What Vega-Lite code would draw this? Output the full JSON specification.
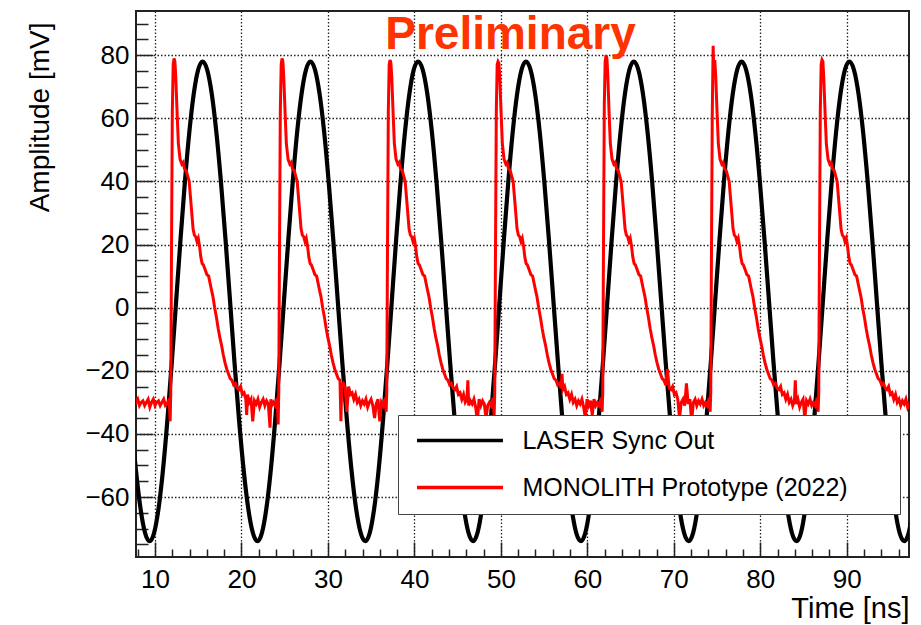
{
"$schema":"https://vega.github.io/schema/vega-lite/v6.json",
"width":773,"height":546,
"autosize":{"type":"none"},
"padding":{"left":136,"top":11,"right":12,"bottom":68},
"background":"white",
"config":{"view":{"stroke":"#222","strokeWidth":2},"font":"Liberation Sans"},
"title":{"text":"Preliminary","color":"#FF3300","font":"Liberation Sans","fontSize":46,"fontWeight":"bold","anchor":"middle","frame":"group","offset":-45,"baseline":"alphabetic","dx":-12,"dy":39},
"datasets":{
"laser":[
{"t":7.27,"v":-36},{"t":7.8,"v":-51.7},{"t":8.33,"v":-63.8},{"t":8.85,"v":-71.4},{"t":9.38,"v":-74},{"t":9.89,"v":-71.4},{"t":10.4,"v":-63.8},{"t":10.91,"v":-51.7},{"t":11.42,"v":-36},{"t":11.93,"v":-17.7},{"t":12.44,"v":2},{"t":12.95,"v":21.7},{"t":13.46,"v":40},{"t":13.97,"v":55.7},{"t":14.48,"v":67.8},{"t":14.99,"v":75.4},{"t":15.5,"v":78},
{"t":16.03,"v":75.4},{"t":16.56,"v":67.8},{"t":17.09,"v":55.7},{"t":17.62,"v":40},{"t":18.15,"v":21.7},{"t":18.68,"v":2},{"t":19.2,"v":-17.7},{"t":19.73,"v":-36},{"t":20.26,"v":-51.7},{"t":20.79,"v":-63.8},{"t":21.32,"v":-71.4},{"t":21.85,"v":-74},{"t":22.36,"v":-71.4},{"t":22.87,"v":-63.8},{"t":23.38,"v":-51.7},{"t":23.89,"v":-36},{"t":24.4,"v":-17.7},{"t":24.91,"v":2},{"t":25.42,"v":21.7},{"t":25.93,"v":40},{"t":26.44,"v":55.7},{"t":26.95,"v":67.8},{"t":27.46,"v":75.4},{"t":27.97,"v":78},
{"t":28.5,"v":75.4},{"t":29.03,"v":67.8},{"t":29.56,"v":55.7},{"t":30.08,"v":40},{"t":30.61,"v":21.7},{"t":31.14,"v":2},{"t":31.67,"v":-17.7},{"t":32.2,"v":-36},{"t":32.73,"v":-51.7},{"t":33.26,"v":-63.8},{"t":33.79,"v":-71.4},{"t":34.32,"v":-74},{"t":34.83,"v":-71.4},{"t":35.34,"v":-63.8},{"t":35.85,"v":-51.7},{"t":36.36,"v":-36},{"t":36.87,"v":-17.7},{"t":37.38,"v":2},{"t":37.89,"v":21.7},{"t":38.4,"v":40},{"t":38.91,"v":55.7},{"t":39.42,"v":67.8},{"t":39.92,"v":75.4},{"t":40.43,"v":78},
{"t":40.96,"v":75.4},{"t":41.49,"v":67.8},{"t":42.02,"v":55.7},{"t":42.55,"v":40},{"t":43.08,"v":21.7},{"t":43.61,"v":2},{"t":44.14,"v":-17.7},{"t":44.67,"v":-36},{"t":45.2,"v":-51.7},{"t":45.73,"v":-63.8},{"t":46.26,"v":-71.4},{"t":46.78,"v":-74},{"t":47.29,"v":-71.4},{"t":47.8,"v":-63.8},{"t":48.31,"v":-51.7},{"t":48.82,"v":-36},{"t":49.33,"v":-17.7},{"t":49.84,"v":2},{"t":50.35,"v":21.7},{"t":50.86,"v":40},{"t":51.37,"v":55.7},{"t":51.88,"v":67.8},{"t":52.39,"v":75.4},{"t":52.9,"v":78},
{"t":53.43,"v":75.4},{"t":53.96,"v":67.8},{"t":54.49,"v":55.7},{"t":55.02,"v":40},{"t":55.55,"v":21.7},{"t":56.08,"v":2},{"t":56.61,"v":-17.7},{"t":57.13,"v":-36},{"t":57.66,"v":-51.7},{"t":58.19,"v":-63.8},{"t":58.72,"v":-71.4},{"t":59.25,"v":-74},{"t":59.76,"v":-71.4},{"t":60.27,"v":-63.8},{"t":60.78,"v":-51.7},{"t":61.29,"v":-36},{"t":61.8,"v":-17.7},{"t":62.31,"v":2},{"t":62.82,"v":21.7},{"t":63.33,"v":40},{"t":63.84,"v":55.7},{"t":64.35,"v":67.8},{"t":64.86,"v":75.4},{"t":65.37,"v":78},
{"t":65.9,"v":75.4},{"t":66.43,"v":67.8},{"t":66.96,"v":55.7},{"t":67.49,"v":40},{"t":68.01,"v":21.7},{"t":68.54,"v":2},{"t":69.07,"v":-17.7},{"t":69.6,"v":-36},{"t":70.13,"v":-51.7},{"t":70.66,"v":-63.8},{"t":71.19,"v":-71.4},{"t":71.72,"v":-74},{"t":72.23,"v":-71.4},{"t":72.74,"v":-63.8},{"t":73.25,"v":-51.7},{"t":73.76,"v":-36},{"t":74.27,"v":-17.7},{"t":74.78,"v":2},{"t":75.29,"v":21.7},{"t":75.8,"v":40},{"t":76.31,"v":55.7},{"t":76.82,"v":67.8},{"t":77.33,"v":75.4},{"t":77.84,"v":78},
{"t":78.36,"v":75.4},{"t":78.89,"v":67.8},{"t":79.42,"v":55.7},{"t":79.95,"v":40},{"t":80.48,"v":21.7},{"t":81.01,"v":2},{"t":81.54,"v":-17.7},{"t":82.07,"v":-36},{"t":82.6,"v":-51.7},{"t":83.13,"v":-63.8},{"t":83.66,"v":-71.4},{"t":84.19,"v":-74},{"t":84.7,"v":-71.4},{"t":85.2,"v":-63.8},{"t":85.71,"v":-51.7},{"t":86.22,"v":-36},{"t":86.73,"v":-17.7},{"t":87.24,"v":2},{"t":87.75,"v":21.7},{"t":88.26,"v":40},{"t":88.77,"v":55.7},{"t":89.28,"v":67.8},{"t":89.79,"v":75.4},{"t":90.3,"v":78},
{"t":90.83,"v":75.4},{"t":91.36,"v":67.8},{"t":91.89,"v":55.7},{"t":92.42,"v":40},{"t":92.95,"v":21.7},{"t":93.48,"v":2},{"t":94.01,"v":-17.7},{"t":94.54,"v":-36},{"t":95.07,"v":-51.7},{"t":95.59,"v":-63.8},{"t":96.12,"v":-71.4},{"t":96.65,"v":-74},{"t":97.16,"v":-71.4},{"t":97.67,"v":-63.8}
],
"mono":[
{"t":7.6,"v":-29},{"t":7.8,"v":-30},{"t":8.0,"v":-29},{"t":8.2,"v":-31},{"t":8.4,"v":-30},{"t":8.6,"v":-29.5},{"t":8.8,"v":-31},{"t":9.0,"v":-30},{"t":9.2,"v":-29},{"t":9.4,"v":-31.5},{"t":9.6,"v":-30},{"t":9.8,"v":-29},{"t":10.0,"v":-31},{"t":10.2,"v":-30},{"t":10.4,"v":-29.5},{"t":10.6,"v":-31},{"t":10.8,"v":-30},{"t":11.0,"v":-29},{"t":11.2,"v":-31},{"t":11.4,"v":-30.5},{"t":11.56,"v":-29.5},
{"t":11.65,"v":-30},{"t":11.75,"v":-36},{"t":11.82,"v":-27},{"t":11.9,"v":15},{"t":12.0,"v":62},{"t":12.1,"v":77},{"t":12.2,"v":79},{"t":12.3,"v":78},{"t":12.4,"v":73},{"t":12.55,"v":62},{"t":12.7,"v":52},{"t":12.9,"v":47},{"t":13.1,"v":45.5},{"t":13.25,"v":46},{"t":13.4,"v":44},{"t":13.6,"v":43.5},{"t":13.8,"v":41.5},{"t":13.95,"v":40},{"t":14.1,"v":35},{"t":14.25,"v":30},{"t":14.4,"v":25},{"t":14.55,"v":23},{"t":14.7,"v":22.5},{"t":14.85,"v":21},{"t":15.0,"v":22},{"t":15.15,"v":19.5},{"t":15.3,"v":16},{"t":15.45,"v":14},{"t":15.6,"v":13.5},{"t":15.8,"v":12},{"t":16.0,"v":10.5},{"t":16.2,"v":10},{"t":16.35,"v":8},{"t":16.5,"v":6},{"t":16.7,"v":3.5},{"t":16.9,"v":0},{"t":17.1,"v":-3},{"t":17.3,"v":-6.5},{"t":17.5,"v":-9.5},{"t":17.7,"v":-12},{"t":17.9,"v":-15},{"t":18.1,"v":-17.5},{"t":18.3,"v":-19.5},{"t":18.5,"v":-21},{"t":18.7,"v":-22.5},{"t":18.9,"v":-23},{"t":19.1,"v":-24.5},{"t":19.3,"v":-24},{"t":19.5,"v":-25.5},{"t":19.7,"v":-26},{"t":19.9,"v":-25},{"t":20.1,"v":-27.5},{"t":20.3,"v":-27},{"t":20.5,"v":-29},{"t":20.6,"v":-34},{"t":20.7,"v":-27.5},{"t":20.9,"v":-30},{"t":21.1,"v":-29},{"t":21.3,"v":-36},{"t":21.5,"v":-29.5},{"t":21.7,"v":-30.5},{"t":21.9,"v":-29},{"t":22.1,"v":-31.5},{"t":22.3,"v":-30},{"t":22.5,"v":-29},{"t":22.7,"v":-31},{"t":22.9,"v":-29.5},{"t":23.1,"v":-30.5},{"t":23.3,"v":-38},{"t":23.4,"v":-29},{"t":23.5,"v":-31},{"t":23.7,"v":-30},{"t":23.9,"v":-31},{"t":24.05,"v":-29.5},
{"t":24.14,"v":-30},{"t":24.24,"v":-37},{"t":24.31,"v":-27},{"t":24.39,"v":15},{"t":24.49,"v":62},{"t":24.59,"v":77},{"t":24.69,"v":79},{"t":24.79,"v":78},{"t":24.89,"v":73},{"t":25.04,"v":62},{"t":25.19,"v":52},{"t":25.39,"v":47},{"t":25.59,"v":45.5},{"t":25.74,"v":46},{"t":25.89,"v":44},{"t":26.09,"v":43.5},{"t":26.29,"v":41.5},{"t":26.44,"v":40},{"t":26.59,"v":35},{"t":26.74,"v":30},{"t":26.89,"v":25},{"t":27.04,"v":23},{"t":27.19,"v":22.5},{"t":27.34,"v":21},{"t":27.49,"v":22},{"t":27.64,"v":19.5},{"t":27.79,"v":16},{"t":27.94,"v":14},{"t":28.09,"v":13.5},{"t":28.29,"v":12},{"t":28.49,"v":10.5},{"t":28.69,"v":10},{"t":28.84,"v":8},{"t":28.99,"v":6},{"t":29.19,"v":3.5},{"t":29.39,"v":0},{"t":29.59,"v":-3},{"t":29.79,"v":-6.5},{"t":29.99,"v":-9.5},{"t":30.19,"v":-12},{"t":30.39,"v":-15},{"t":30.59,"v":-17.5},{"t":30.79,"v":-19.5},{"t":30.99,"v":-21},{"t":31.19,"v":-22.5},{"t":31.39,"v":-23},{"t":31.5,"v":-36},{"t":31.59,"v":-24.5},{"t":31.79,"v":-24},{"t":31.99,"v":-25.5},{"t":32.19,"v":-33},{"t":32.39,"v":-25},{"t":32.59,"v":-27.5},{"t":32.79,"v":-27},{"t":32.99,"v":-29},{"t":33.19,"v":-27.5},{"t":33.39,"v":-30},{"t":33.59,"v":-29},{"t":33.79,"v":-31},{"t":33.99,"v":-29.5},{"t":34.19,"v":-30.5},{"t":34.39,"v":-29},{"t":34.59,"v":-31.5},{"t":34.79,"v":-30},{"t":34.99,"v":-29},{"t":35.19,"v":-31},{"t":35.39,"v":-35},{"t":35.59,"v":-30.5},{"t":35.79,"v":-29},{"t":35.99,"v":-36},{"t":36.19,"v":-30},{"t":36.39,"v":-31},{"t":36.54,"v":-29.5},
{"t":36.63,"v":-30},{"t":36.73,"v":-33},{"t":36.8,"v":-27},{"t":36.88,"v":15},{"t":36.98,"v":62},{"t":37.08,"v":77},{"t":37.18,"v":78.5},{"t":37.28,"v":77.5},{"t":37.38,"v":73},{"t":37.53,"v":62},{"t":37.68,"v":52},{"t":37.88,"v":47},{"t":38.08,"v":45.5},{"t":38.23,"v":46},{"t":38.38,"v":44},{"t":38.58,"v":43.5},{"t":38.78,"v":41.5},{"t":38.93,"v":40},{"t":39.08,"v":35},{"t":39.23,"v":30},{"t":39.38,"v":25},{"t":39.53,"v":23},{"t":39.68,"v":22.5},{"t":39.83,"v":21},{"t":39.98,"v":22},{"t":40.13,"v":19.5},{"t":40.28,"v":16},{"t":40.43,"v":14},{"t":40.58,"v":13.5},{"t":40.78,"v":12},{"t":40.98,"v":10.5},{"t":41.18,"v":10},{"t":41.33,"v":8},{"t":41.48,"v":6},{"t":41.68,"v":3.5},{"t":41.88,"v":0},{"t":42.08,"v":-3},{"t":42.28,"v":-6.5},{"t":42.48,"v":-9.5},{"t":42.68,"v":-12},{"t":42.88,"v":-15},{"t":43.08,"v":-17.5},{"t":43.28,"v":-19.5},{"t":43.48,"v":-21},{"t":43.68,"v":-22.5},{"t":43.88,"v":-23},{"t":44.08,"v":-24.5},{"t":44.28,"v":-24},{"t":44.48,"v":-25.5},{"t":44.68,"v":-26},{"t":44.88,"v":-25},{"t":45.08,"v":-27.5},{"t":45.28,"v":-27},{"t":45.48,"v":-29},{"t":45.68,"v":-27.5},{"t":45.88,"v":-30},{"t":46.08,"v":-29},{"t":46.18,"v":-23},{"t":46.28,"v":-31},{"t":46.48,"v":-29.5},{"t":46.68,"v":-30.5},{"t":46.88,"v":-29},{"t":47.08,"v":-31.5},{"t":47.28,"v":-36},{"t":47.48,"v":-29},{"t":47.68,"v":-31},{"t":47.88,"v":-29.5},{"t":48.08,"v":-30.5},{"t":48.28,"v":-35},{"t":48.48,"v":-31},{"t":48.68,"v":-30},{"t":48.88,"v":-31},{"t":49.03,"v":-29.5},
{"t":49.12,"v":-30},{"t":49.22,"v":-34},{"t":49.29,"v":-27},{"t":49.37,"v":15},{"t":49.47,"v":62},{"t":49.57,"v":77},{"t":49.67,"v":78},{"t":49.77,"v":77.5},{"t":49.87,"v":73},{"t":50.02,"v":62},{"t":50.17,"v":52},{"t":50.37,"v":47},{"t":50.57,"v":45.5},{"t":50.72,"v":46},{"t":50.87,"v":44},{"t":51.07,"v":43.5},{"t":51.27,"v":41.5},{"t":51.42,"v":40},{"t":51.57,"v":35},{"t":51.72,"v":30},{"t":51.87,"v":25},{"t":52.02,"v":23},{"t":52.17,"v":22.5},{"t":52.32,"v":21},{"t":52.47,"v":22},{"t":52.62,"v":19.5},{"t":52.77,"v":16},{"t":52.92,"v":14},{"t":53.07,"v":13.5},{"t":53.27,"v":12},{"t":53.47,"v":10.5},{"t":53.67,"v":10},{"t":53.82,"v":8},{"t":53.97,"v":6},{"t":54.17,"v":3.5},{"t":54.37,"v":0},{"t":54.57,"v":-3},{"t":54.77,"v":-6.5},{"t":54.97,"v":-9.5},{"t":55.17,"v":-12},{"t":55.37,"v":-15},{"t":55.57,"v":-17.5},{"t":55.77,"v":-19.5},{"t":55.97,"v":-21},{"t":56.17,"v":-22.5},{"t":56.37,"v":-23},{"t":56.57,"v":-24.5},{"t":56.77,"v":-24},{"t":56.97,"v":-25.5},{"t":57.07,"v":-21},{"t":57.17,"v":-26},{"t":57.37,"v":-25},{"t":57.57,"v":-27.5},{"t":57.77,"v":-27},{"t":57.97,"v":-29},{"t":58.17,"v":-27.5},{"t":58.37,"v":-30},{"t":58.57,"v":-29},{"t":58.77,"v":-31},{"t":58.97,"v":-29.5},{"t":59.17,"v":-30.5},{"t":59.37,"v":-29},{"t":59.57,"v":-31.5},{"t":59.77,"v":-35},{"t":59.97,"v":-29},{"t":60.17,"v":-31},{"t":60.37,"v":-29.5},{"t":60.57,"v":-34},{"t":60.77,"v":-29},{"t":60.97,"v":-31},{"t":61.17,"v":-30},{"t":61.37,"v":-31},{"t":61.52,"v":-29.5},
{"t":61.61,"v":-30},{"t":61.71,"v":-33},{"t":61.78,"v":-27},{"t":61.86,"v":15},{"t":61.96,"v":64},{"t":62.06,"v":78},{"t":62.16,"v":80},{"t":62.26,"v":79},{"t":62.36,"v":74},{"t":62.51,"v":62},{"t":62.66,"v":52},{"t":62.86,"v":47},{"t":63.06,"v":45.5},{"t":63.21,"v":46},{"t":63.36,"v":44},{"t":63.56,"v":43.5},{"t":63.76,"v":41.5},{"t":63.91,"v":40},{"t":64.06,"v":35},{"t":64.21,"v":30},{"t":64.36,"v":25},{"t":64.51,"v":23},{"t":64.66,"v":22.5},{"t":64.81,"v":21},{"t":64.96,"v":22},{"t":65.11,"v":19.5},{"t":65.26,"v":16},{"t":65.41,"v":14},{"t":65.56,"v":13.5},{"t":65.76,"v":12},{"t":65.96,"v":10.5},{"t":66.16,"v":10},{"t":66.31,"v":8},{"t":66.46,"v":6},{"t":66.66,"v":3.5},{"t":66.86,"v":0},{"t":67.06,"v":-3},{"t":67.26,"v":-6.5},{"t":67.46,"v":-9.5},{"t":67.66,"v":-12},{"t":67.86,"v":-15},{"t":68.06,"v":-17.5},{"t":68.26,"v":-19.5},{"t":68.46,"v":-21},{"t":68.66,"v":-22.5},{"t":68.86,"v":-23},{"t":69.06,"v":-24.5},{"t":69.26,"v":-19.5},{"t":69.46,"v":-25.5},{"t":69.66,"v":-26},{"t":69.86,"v":-25},{"t":70.06,"v":-27.5},{"t":70.26,"v":-27},{"t":70.46,"v":-29},{"t":70.66,"v":-35},{"t":70.86,"v":-30},{"t":71.06,"v":-29},{"t":71.26,"v":-31},{"t":71.46,"v":-24},{"t":71.66,"v":-30.5},{"t":71.86,"v":-29},{"t":72.06,"v":-36},{"t":72.26,"v":-30},{"t":72.46,"v":-29},{"t":72.66,"v":-31},{"t":72.86,"v":-29.5},{"t":73.06,"v":-30.5},{"t":73.26,"v":-29},{"t":73.46,"v":-31},{"t":73.66,"v":-30},{"t":73.86,"v":-31},{"t":74.01,"v":-29.5},
{"t":74.1,"v":-30},{"t":74.2,"v":-33},{"t":74.27,"v":-27},{"t":74.35,"v":15},{"t":74.45,"v":62},{"t":74.55,"v":83},{"t":74.6,"v":77},{"t":74.65,"v":78},{"t":74.75,"v":78},{"t":74.85,"v":73},{"t":75.0,"v":62},{"t":75.15,"v":52},{"t":75.35,"v":47},{"t":75.55,"v":45.5},{"t":75.7,"v":46},{"t":75.85,"v":44},{"t":76.05,"v":43.5},{"t":76.25,"v":41.5},{"t":76.4,"v":40},{"t":76.55,"v":35},{"t":76.7,"v":30},{"t":76.85,"v":25},{"t":77.0,"v":23},{"t":77.15,"v":22.5},{"t":77.3,"v":21},{"t":77.45,"v":22},{"t":77.6,"v":19.5},{"t":77.75,"v":16},{"t":77.9,"v":14},{"t":78.05,"v":13.5},{"t":78.25,"v":12},{"t":78.45,"v":10.5},{"t":78.65,"v":10},{"t":78.8,"v":8},{"t":78.95,"v":6},{"t":79.15,"v":3.5},{"t":79.35,"v":0},{"t":79.55,"v":-3},{"t":79.75,"v":-6.5},{"t":79.95,"v":-9.5},{"t":80.15,"v":-12},{"t":80.35,"v":-15},{"t":80.55,"v":-17.5},{"t":80.75,"v":-19.5},{"t":80.95,"v":-21},{"t":81.15,"v":-22.5},{"t":81.35,"v":-23},{"t":81.55,"v":-24.5},{"t":81.75,"v":-24},{"t":81.95,"v":-25.5},{"t":82.15,"v":-26},{"t":82.35,"v":-25},{"t":82.55,"v":-27.5},{"t":82.75,"v":-27},{"t":82.95,"v":-29},{"t":83.15,"v":-27.5},{"t":83.35,"v":-30},{"t":83.55,"v":-29},{"t":83.75,"v":-31},{"t":83.95,"v":-29.5},{"t":84.05,"v":-23},{"t":84.15,"v":-30.5},{"t":84.35,"v":-29},{"t":84.55,"v":-31.5},{"t":84.75,"v":-30},{"t":84.95,"v":-29},{"t":85.15,"v":-35},{"t":85.35,"v":-29.5},{"t":85.55,"v":-30.5},{"t":85.75,"v":-29},{"t":85.95,"v":-31},{"t":86.15,"v":-30},{"t":86.35,"v":-31},{"t":86.5,"v":-29.5},
{"t":86.59,"v":-30},{"t":86.69,"v":-33},{"t":86.76,"v":-27},{"t":86.84,"v":15},{"t":86.94,"v":62},{"t":87.04,"v":77},{"t":87.14,"v":78.5},{"t":87.24,"v":78},{"t":87.34,"v":73},{"t":87.49,"v":62},{"t":87.64,"v":52},{"t":87.84,"v":47},{"t":88.04,"v":45.5},{"t":88.19,"v":46},{"t":88.34,"v":44},{"t":88.54,"v":43.5},{"t":88.74,"v":41.5},{"t":88.89,"v":40},{"t":89.04,"v":35},{"t":89.19,"v":30},{"t":89.34,"v":25},{"t":89.49,"v":23},{"t":89.64,"v":22.5},{"t":89.79,"v":21},{"t":89.94,"v":22},{"t":90.09,"v":19.5},{"t":90.24,"v":16},{"t":90.39,"v":14},{"t":90.54,"v":13.5},{"t":90.74,"v":12},{"t":90.94,"v":10.5},{"t":91.14,"v":10},{"t":91.29,"v":8},{"t":91.44,"v":6},{"t":91.64,"v":3.5},{"t":91.84,"v":0},{"t":92.04,"v":-3},{"t":92.24,"v":-6.5},{"t":92.44,"v":-9.5},{"t":92.64,"v":-12},{"t":92.84,"v":-15},{"t":93.04,"v":-17.5},{"t":93.24,"v":-19.5},{"t":93.44,"v":-21},{"t":93.64,"v":-22.5},{"t":93.84,"v":-23},{"t":94.04,"v":-24.5},{"t":94.24,"v":-24},{"t":94.44,"v":-25.5},{"t":94.64,"v":-26},{"t":94.84,"v":-25},{"t":95.04,"v":-27.5},{"t":95.24,"v":-27},{"t":95.44,"v":-29},{"t":95.64,"v":-27.5},{"t":95.84,"v":-30},{"t":96.04,"v":-29},{"t":96.24,"v":-31},{"t":96.44,"v":-29.5},{"t":96.64,"v":-30.5},{"t":96.84,"v":-29},{"t":97.04,"v":-31.5},{"t":97.24,"v":-30}
]
},
"layer":[
{
"data":{"name":"laser"},
"mark":{"type":"line","interpolate":"monotone","strokeWidth":4.2,"clip":true},
"encoding":{
"x":{"field":"t","type":"quantitative","scale":{"domain":[7.8,97.2],"nice":false,"zero":false},
"axis":{"orient":"bottom","values":[10,20,30,40,50,60,70,80,90],"tickSize":-15,"tickWidth":1.5,"tickColor":"#222","domain":false,"labelFont":"Liberation Sans","labelFontSize":26,"labelColor":"black","labelPadding":24,"labelFlush":false,"grid":true,"gridColor":"#222","gridDash":[1.5,2],"gridWidth":1.3,"title":"Time [ns]","titleFont":"Liberation Sans","titleFontSize":29,"titleFontWeight":"normal","titleColor":"black","titleAnchor":"end","titleAlign":"right","titleBaseline":"alphabetic","titleX":773,"titleY":60}},
"y":{"field":"v","type":"quantitative","scale":{"domain":[-79,94],"nice":false,"zero":false},
"axis":{"orient":"left","values":[-60,-40,-20,0,20,40,60,80],"tickSize":-17,"tickWidth":1.5,"tickColor":"#222","domain":false,"labelFont":"Liberation Sans","labelFontSize":26,"labelColor":"black","labelPadding":24,"grid":true,"gridColor":"#222","gridDash":[1.5,2],"gridWidth":1.3,"title":"Amplitude [mV]","titleFont":"Liberation Sans","titleFontSize":28,"titleFontWeight":"normal","titleColor":"black","titleAngle":-90,"titleAlign":"right","titleBaseline":"alphabetic","titleX":-88,"titleY":11}},
"color":{"datum":"LASER Sync Out","type":"nominal","scale":{"domain":["LASER Sync Out","MONOLITH Prototype (2022)"],"range":["#000000","#ff0000"]},
"legend":{"orient":"none","legendX":262,"legendY":404,"title":" ","titleOrient":"right","titlePadding":39,"titleFontSize":1,"symbolType":"M-4,0H4","symbolSize":462,"symbolStrokeWidth":3.5,"symbolOffset":36.5,"labelFont":"Liberation Sans","labelFontSize":25,"labelColor":"black","labelOffset":50,"labelLimit":0,"padding":13,"rowPadding":21,"fillColor":"white","strokeColor":"#444"}}
}
},
{
"data":{"name":"mono"},
"mark":{"type":"line","strokeWidth":3,"clip":true},
"encoding":{
"x":{"field":"t","type":"quantitative","scale":{"domain":[7.8,97.2],"nice":false,"zero":false},"axis":null},
"y":{"field":"v","type":"quantitative","scale":{"domain":[-79,94],"nice":false,"zero":false},"axis":null},
"color":{"datum":"MONOLITH Prototype (2022)","type":"nominal"}
}
},
{
"data":{"name":"laser"},
"mark":{"type":"point","opacity":0},
"encoding":{
"x":{"field":"t","type":"quantitative","scale":{"domain":[7.8,97.2],"nice":false,"zero":false},
"axis":{"orient":"bottom","values":[8,12,14,16,18,22,24,26,28,32,34,36,38,42,44,46,48,52,54,56,58,62,64,66,68,72,74,76,78,82,84,86,88,92,94,96],"tickSize":-8,"tickWidth":1.5,"tickColor":"#222","domain":false,"labels":false,"grid":false,"title":null}},
"y":{"field":"v","type":"quantitative","scale":{"domain":[-79,94],"nice":false,"zero":false},
"axis":{"orient":"left","values":[-75,-70,-65,-55,-50,-45,-35,-30,-25,-15,-10,-5,5,10,15,25,30,35,45,50,55,65,70,75,85,90],"tickSize":-12,"tickWidth":1.5,"tickColor":"#222","domain":false,"labels":false,"grid":false,"title":null}}
}
}
],
"resolve":{"axis":{"x":"independent","y":"independent"}}
}
